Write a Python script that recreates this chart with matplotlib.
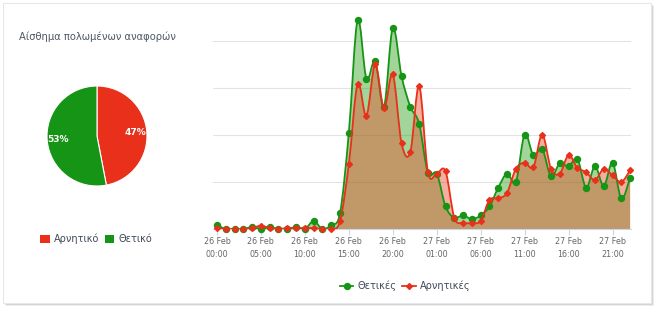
import numpy as np
import matplotlib
matplotlib.use("Agg")
import matplotlib.pyplot as plt
from matplotlib.path import Path
from matplotlib.patches import PathPatch, Rectangle, Patch
from matplotlib.lines import Line2D

# pie data
pie_labels = ["Αρνητικό", "Θετικό"]
pie_values = [47, 53]

# hourly series, 26 Feb 00:00 .. 27 Feb 23:00
hours = list(range(48))
positive = [0.85, 0, 0, 0, 0.4, 0, 0.4, 0, 0, 0.4, 0, 1.7, 0, 0.85, 3.4, 20.4,
            44.5, 32, 35.7, 26, 42.8, 32.5, 26, 22.4, 11.9, 11.8, 4.8, 2.4, 2.9, 2.1, 2.9, 4.8,
            8.8, 11.8, 10, 20.1, 15.7, 17, 11.2, 14, 13.3, 14.9, 8.8, 13.4, 9.1, 14.1, 6.5, 10.9]
negative = [0.2, 0, 0, 0, 0.2, 0.7, 0.2, 0, 0.2, 0.2, 0.2, 0.2, 0, 0, 1.7, 13.8,
            30.9, 24.1, 35, 25.7, 32.9, 18.2, 16.4, 30.5, 12.1, 11.8, 12.3, 2.4, 1.3, 1.3, 1.7, 6.2,
            6.5, 7.7, 12.8, 14.1, 13.2, 20.1, 12.8, 11.8, 15.7, 13, 12.1, 10.4, 12.8, 11.4, 10, 12.5]
tick_hours = [0, 5, 10, 15, 20, 25, 30, 35, 40, 45]
tick_labels = ["26 Feb\n00:00", "26 Feb\n05:00", "26 Feb\n10:00", "26 Feb\n15:00", "26 Feb\n20:00",
               "27 Feb\n01:00", "27 Feb\n06:00", "27 Feb\n11:00", "27 Feb\n16:00", "27 Feb\n21:00"]

GREEN = "#169416"
RED = "#e8301a"
W, H = 660, 313


def spline_path(x, y, close=False):
    # smooth curve through the points (bezier segments, catmull-rom style)
    x = np.asarray(x, float)
    y = np.asarray(y, float)
    n = len(x)
    verts = [(x[0], y[0])]
    codes = [Path.MOVETO]
    for i in range(n - 1):
        xp, yp = (x[i - 1], y[i - 1]) if i > 0 else (x[i], y[i])
        xn, yn = (x[i + 2], y[i + 2]) if i + 2 < n else (x[i + 1], y[i + 1])
        c1 = (x[i] + (x[i + 1] - xp) / 6, y[i] + (y[i + 1] - yp) / 6)
        c2 = (x[i + 1] - (xn - x[i]) / 6, y[i + 1] - (yn - y[i]) / 6)
        verts += [c1, c2, (x[i + 1], y[i + 1])]
        codes += [Path.CURVE4] * 3
    if close:
        verts += [(x[-1], 0), (x[0], 0), (x[0], 0)]
        codes += [Path.LINETO, Path.LINETO, Path.CLOSEPOLY]
    return Path(verts, codes)


fig = plt.figure(figsize=(6.6, 3.13), dpi=100)
fig.patch.set_facecolor("white")

# card frame with shadow
for k, a in [(3, 0.15), (2, 0.25), (1, 0.35)]:
    fig.patches.append(Rectangle((3 / W + k / W, 1 - 303 / H - k / H), 648 / W, 300 / H,
                                 transform=fig.transFigure, facecolor="#888888", alpha=a,
                                 edgecolor="none", zorder=-3))
fig.patches.append(Rectangle((3 / W, 1 - 303 / H), 648 / W, 300 / H, transform=fig.transFigure,
                             facecolor="white", edgecolor="#e6e9ec", lw=0.8, zorder=-2))

# pie
fig.text(19 / W, 1 - 37 / H, "Αίσθημα πολωμένων αναφορών", fontsize=7.2, color="#4d5866",
         va="center", ha="left")
pax = fig.add_axes([(97 - 62.5) / W, 1 - (136 + 62.5) / H, 125 / W, 125 / H])
wedges, _, autotexts = pax.pie(pie_values, colors=[RED, GREEN], startangle=90, counterclock=False,
                               autopct=lambda p: f"{round(p)}%", pctdistance=0.78,
                               wedgeprops=dict(edgecolor="white", linewidth=0.8))
for t in autotexts:
    t.set_color("white")
    t.set_fontsize(6.5)
    t.set_fontweight("bold")
pax.set_aspect("equal")
fig.legend([Patch(facecolor=RED), Patch(facecolor=GREEN)], pie_labels,
           loc="center", bbox_to_anchor=(96 / W, 1 - 239 / H), ncol=2, frameon=False,
           fontsize=7, handlelength=1.0, handleheight=1.0, handletextpad=0.4, columnspacing=0.6,
           labelcolor="#3e4a5b")

# area spline chart
ax = fig.add_axes([213 / W, 1 - 229 / H, (631 - 213) / W, (229 - 17) / H])
ax.patch.set_alpha(0)
ax.set_xlim(-0.45, 47.1)
ax.set_ylim(0, 45.1)
for gy in [10, 20, 30, 40]:
    ax.axhline(gy, color="#e3e3e3", lw=0.8, zorder=0)

ax.add_patch(PathPatch(spline_path(hours, positive, True), facecolor="#149600", alpha=0.4,
                       edgecolor="none", zorder=1))
ax.add_patch(PathPatch(spline_path(hours, negative, True), facecolor="#e94e2c", alpha=0.45,
                       edgecolor="none", zorder=2))
ax.add_patch(PathPatch(spline_path(hours, positive), facecolor="none", edgecolor=GREEN, lw=1.3,
                       zorder=3))
ax.plot(hours, positive, "o", color=GREEN, ms=4.3, zorder=4, clip_on=False)
ax.add_patch(PathPatch(spline_path(hours, negative), facecolor="none", edgecolor=RED, lw=1.3,
                       zorder=5))
ax.plot(hours, negative, "D", color=RED, ms=3, zorder=6, clip_on=False)

for s in ["top", "right", "left"]:
    ax.spines[s].set_visible(False)
ax.spines["bottom"].set_color("#ccd6eb")
ax.set_yticks([])
ax.set_xticks(tick_hours)
ax.set_xticklabels(tick_labels, fontsize=5.8, color="#666666", linespacing=1.5)
ax.tick_params(axis="x", length=4, color="#ccd6eb", pad=2)

handles = [Line2D([], [], color=GREEN, marker="o", ms=4.3, lw=1.3),
           Line2D([], [], color=RED, marker="D", ms=3, lw=1.3)]
fig.legend(handles, ["Θετικές", "Αρνητικές"], loc="center", bbox_to_anchor=(405 / W, 1 - 286 / H),
           ncol=2, frameon=False, fontsize=7, handlelength=1.4, handletextpad=0.4,
           columnspacing=0.6, labelcolor="#3e4a5b")

fig.savefig("out.png", dpi=100)
